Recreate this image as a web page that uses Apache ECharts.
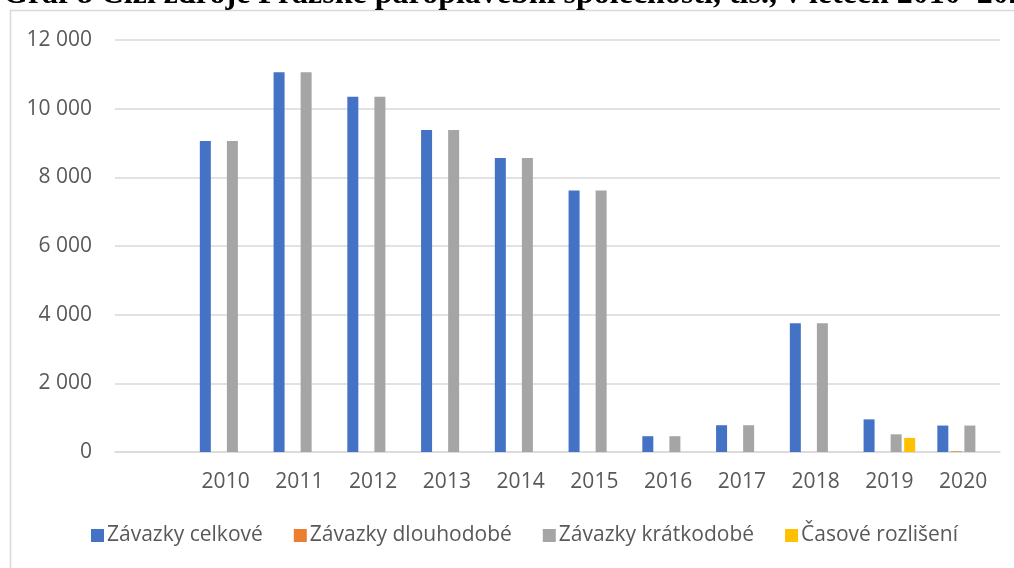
<!DOCTYPE html>
<html>
<head>
<meta charset="utf-8">
<script src="https://cdn.jsdelivr.net/npm/echarts@6/dist/echarts.min.js"></script>
<style>
html,body{margin:0;padding:0;background:#fff;}
#chart{width:1014px;height:568px;}
</style>
</head>
<body>
<div id="chart"></div>
<script>
const titleText = 'Graf 8 Cizí zdroje Pražské paroplavební společnosti, tis., v letech 2010–2020';
const categories = ['', '2010', '2011', '2012', '2013', '2014', '2015', '2016', '2017', '2018', '2019', '2020'];
const seriesNames = ['Závazky celkové', 'Závazky dlouhodobé', 'Závazky krátkodobé', 'Časové rozlišení'];
const celkove     = [null, 9060, 11060, 10350, 9380, 8560, 7620, 460, 780, 3750, 950, 770];
const dlouhodobe  = [null, 0, 0, 0, 0, 0, 0, 0, 0, 0, 0, 20];
const kratkodobe  = [null, 9060, 11060, 10350, 9380, 8560, 7620, 460, 780, 3750, 515, 770];
const casove      = [null, 0, 0, 0, 0, 0, 0, 0, 0, 0, 410, 0];
const yTicks = [0, 2000, 4000, 6000, 8000, 10000, 12000];

const colors = ['#4472C4', '#ED7D31', '#A5A5A5', '#FFC000'];
const FONT = '"Open Sans", "Noto Sans", sans-serif';

const chart = echarts.init(document.getElementById('chart'), null, {renderer: 'canvas'});
const dataArr = [celkove, dlouhodobe, kratkodobe, casove];

const option = {
  animation: false,
  color: colors,
  graphic: [
    {type: 'rect', shape: {x: 10.5, y: 10.5, width: 1100, height: 700}, style: {fill: 'none', stroke: '#D9D9D9', lineWidth: 1.5}, z: 0},
    {type: 'text', x: 3, y: -21, style: {text: titleText, font: 'bold 32px "Liberation Serif", "DejaVu Serif", serif', fill: '#000', verticalAlign: 'top'}, z: 10}
  ],
  grid: {left: 115, right: 14, top: 40, bottom: 116, containLabel: false},
  legend: {
    bottom: 17, left: 86,
    itemWidth: 13, itemHeight: 13, itemGap: 31,
    icon: 'rect',
    textStyle: {fontFamily: FONT, fontSize: 21, color: '#595959', padding: [0, 0, 0, -2]},
    data: seriesNames
  },
  xAxis: {
    type: 'category',
    data: categories,
    axisLine: {show: true, lineStyle: {color: '#D9D9D9', width: 1.5}},
    axisTick: {show: false},
    axisLabel: {fontFamily: FONT, fontSize: 21, color: '#595959', margin: 20, interval: 0}
  },
  yAxis: {
    type: 'value',
    min: yTicks[0], max: yTicks[yTicks.length - 1], interval: 2000,
    axisLine: {show: false},
    axisTick: {show: false},
    splitLine: {lineStyle: {color: '#D9D9D9', width: 1.5}},
    axisLabel: {
      fontFamily: FONT, fontSize: 21, color: '#595959', margin: 23,
      formatter: v => String(v).replace(/\B(?=(\d{3})+(?!\d))/g, ' ')
    }
  },
  series: seriesNames.map((n, i) => ({
    name: n,
    type: 'bar',
    data: dataArr[i],
    barWidth: 11,
    barGap: '23%',
    itemStyle: {color: colors[i]}
  }))
};
chart.setOption(option);
</script>
</body>
</html>
